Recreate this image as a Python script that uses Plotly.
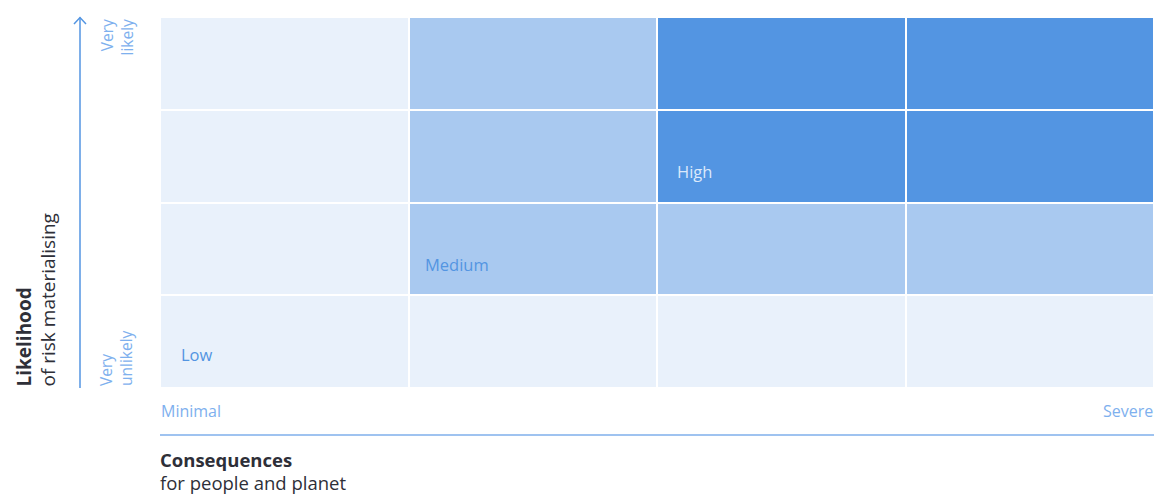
import plotly.graph_objects as go

# ---- data ----
consequence_levels = ["Minimal", "Moderate", "Significant", "Severe"]
likelihood_levels = ["Very unlikely", "Unlikely", "Likely", "Very likely"]  # bottom -> top
# risk zone per cell: 0 = Low, 1 = Medium, 2 = High (rows bottom -> top)
risk_matrix = [
    [0, 0, 0, 0],
    [0, 1, 1, 1],
    [0, 1, 2, 2],
    [0, 1, 2, 2],
]
zone_labels = ["Low", "Medium", "High"]
zone_label_cells = [(0, 0), (1, 1), (2, 2)]  # (consequence index, likelihood index)
x_title = ["Consequences", "for people and planet"]
y_title = ["Likelihood", "of risk materialising"]

# ---- style ----
W, H = 1154, 495
# plot area in page pixels: x 160..1154, y 17..388
L, R, T, B = 160, 0, 17, 495 - 388
PW, PH = W - L - R, H - T - B
LIGHT = "#e9f1fb"
MED = "#a9c9f0"
DARK = "#5395e2"
ACCENT = "#5395e2"
AXISTXT = "#7eb0ee"
TITLE = "#2e2f38"
FONT = "Open Sans"

def px_x(px):  # page pixel -> paper x
    return (px - L) / PW

def px_y(py):  # page pixel -> paper y
    return (H - B - py) / PH

fig = go.Figure(
    go.Heatmap(
        z=risk_matrix,
        x=list(range(len(consequence_levels))),
        y=list(range(len(likelihood_levels))),
        zmin=0, zmax=2,
        colorscale=[[0, LIGHT], [0.5, MED], [1, DARK]],
        showscale=False,
        xgap=2, ygap=2,
        hoverinfo="skip",
    )
)

annotations = []
# zone labels inside cells
label_colors = [ACCENT, ACCENT, "#dce9fb"]
label_xshift = [19, 14, 18]
label_yshift = [20, 17, 18]
for i, (lab, (cx, cy)) in enumerate(zip(zone_labels, zone_label_cells)):
    annotations.append(dict(
        x=cx - 0.5, y=cy - 0.5, xref="x", yref="y", text=lab, showarrow=False,
        xanchor="left", yanchor="bottom", xshift=label_xshift[i], yshift=label_yshift[i],
        font=dict(family=FONT, size=16.5, color=label_colors[i]),
    ))

# x-axis end labels
annotations.append(dict(x=0, y=px_y(411), xref="paper", yref="paper", text=consequence_levels[0],
                        showarrow=False, xanchor="left", yanchor="middle", xshift=-1,
                        font=dict(family=FONT, size=16, color=AXISTXT)))
annotations.append(dict(x=1, y=px_y(411), xref="paper", yref="paper", text=consequence_levels[-1],
                        showarrow=False, xanchor="right", yanchor="middle", xshift=1,
                        font=dict(family=FONT, size=16, color=AXISTXT)))
# x title (two lines)
annotations.append(dict(x=0, y=px_y(459.5), xref="paper", yref="paper",
                        text=f"<b>{x_title[0]}</b>", borderpad=0,
                        showarrow=False, xanchor="left", yanchor="middle", xshift=-1,
                        font=dict(family=FONT, size=18.5, color=TITLE)))
annotations.append(dict(x=0, y=px_y(483), xref="paper", yref="paper",
                        text=x_title[1], borderpad=0,
                        showarrow=False, xanchor="left", yanchor="middle", xshift=-1,
                        font=dict(family=FONT, size=18.5, color=TITLE)))

# y-axis end labels (rotated)
annotations.append(dict(x=px_x(116), y=1, xref="paper", yref="paper",
                        text="Very<br>" + likelihood_levels[-1].split()[-1],
                        showarrow=False, textangle=-90, xanchor="center", yanchor="top", align="right",
                        font=dict(family=FONT, size=15.5, color=AXISTXT)))
annotations.append(dict(x=px_x(116), y=0, xref="paper", yref="paper",
                        text="Very<br>" + likelihood_levels[0].split()[-1],
                        showarrow=False, textangle=-90, xanchor="center", yanchor="bottom", align="left",
                        font=dict(family=FONT, size=15.5, color=AXISTXT)))
# y title (two rotated lines)
annotations.append(dict(x=px_x(23), y=0, xref="paper", yref="paper",
                        text=f"<b>{y_title[0]}</b>", borderpad=0,
                        showarrow=False, textangle=-90, xanchor="center", yanchor="bottom",
                        font=dict(family=FONT, size=19, color=TITLE)))
annotations.append(dict(x=px_x(47), y=0, xref="paper", yref="paper",
                        text=y_title[1], borderpad=0,
                        showarrow=False, textangle=-90, xanchor="center", yanchor="bottom",
                        font=dict(family=FONT, size=19, color=TITLE)))

shapes = [
    # vertical arrow
    dict(type="line", xref="paper", yref="paper", x0=px_x(80), x1=px_x(80),
         y0=0, y1=px_y(17.5), line=dict(color=ACCENT, width=1.5)),
    dict(type="path", xref="paper", yref="paper",
         path=f"M {px_x(74)} {px_y(24)} L {px_x(80)} {px_y(17.5)} L {px_x(86)} {px_y(24)}",
         line=dict(color=ACCENT, width=1.5)),
    # horizontal rule
    dict(type="line", xref="paper", yref="paper", x0=0, x1=1,
         y0=px_y(435), y1=px_y(435), line=dict(color="#9fc3f0", width=2)),
]

fig.update_layout(
    width=W, height=H,
    margin=dict(l=L, r=R, t=T, b=B),
    paper_bgcolor="white", plot_bgcolor="white",
    xaxis=dict(range=[-0.5, 3.5], visible=False, fixedrange=True),
    yaxis=dict(range=[-0.5, 3.5], visible=False, fixedrange=True),
    annotations=annotations,
    shapes=shapes,
    font=dict(family=FONT),
)

fig.write_html(
    "out.html",
    config={"displayModeBar": False},
    post_script="document.body.style.margin='0px';document.body.style.overflow='hidden';",
)
